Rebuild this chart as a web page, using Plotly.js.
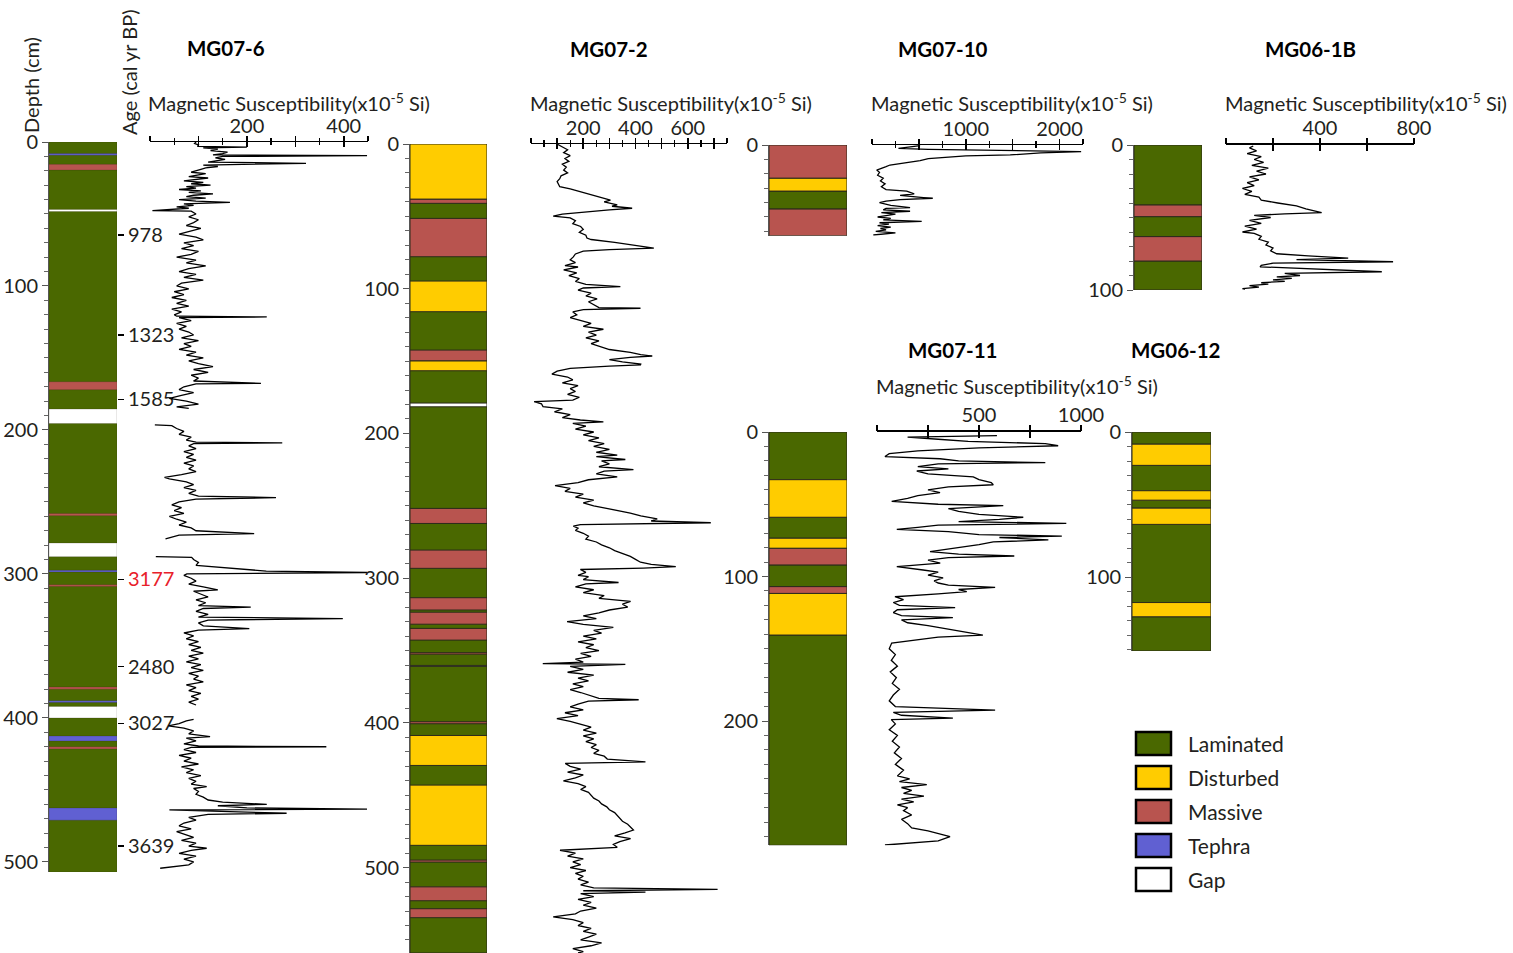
<!DOCTYPE html>
<html><head><meta charset="utf-8">
<script src="https://cdn.plot.ly/plotly-3.0.1.min.js"></script>
<style>html,body{margin:0;padding:0;background:#fff}#chart{width:1513px;height:953px}</style>
</head><body><div id="chart"></div>
<script>
// ---------- lithology legend ----------
const lithCodes  = ['L','D','M','T','G'];
const lithNames  = ['Laminated','Disturbed','Massive','Tephra','Gap'];
const lithColors = ['#4a6800','#ffcc00','#b8544f','#6060d2','#ffffff'];

// ---------- stratigraphic columns (depth cm) ----------
const mg076Top  = [0, 8, 15.5, 46.8, 166.5, 185.5, 258, 278.5, 297.5, 307.5, 378.5, 388, 392, 412.5, 420, 462.5];
const mg076Bot  = [507, 9.2, 19.5, 48.3, 172, 195.5, 259.5, 288, 298.7, 308.7, 380, 389.3, 400, 416, 421.5, 471];
const mg076Type = ['L','T','M','G','M','G','M','G','T','M','M','T','G','T','M','T'];

const mg072Top  = [0, 0, 38.2, 51.4, 94.7, 142.4, 149.8, 179, 251.8, 280.6, 313.5, 323.5, 334.7, 351.5, 360.3, 399.2, 408.7, 443, 494.8, 513.3, 528.4];
const mg072Bot  = [559, 38.2, 41, 77.9, 115.9, 149.8, 156.7, 181.6, 262.2, 293.2, 322, 331.8, 342.8, 352.5, 361, 400.6, 429.4, 484.6, 496.2, 522.9, 534.6];
const mg072Type = ['L','D','M','M','D','M','D','G','M','M','M','M','M','M','G','M','D','D','M','M','M'];

const mg0710Top  = [0, 23, 32, 44.5];
const mg0710Bot  = [23, 32, 44.5, 63];
const mg0710Type = ['M','D','L','M'];

const mg061bTop  = [0, 41.4, 49.4, 63.2, 80];
const mg061bBot  = [41.4, 49.4, 63.2, 80, 100];
const mg061bType = ['L','M','L','M','L'];

const mg0711Top  = [0, 33, 59, 73.5, 80.5, 92, 107, 111.7, 140.5];
const mg0711Bot  = [33, 59, 73.5, 80.5, 92, 107, 111.7, 140.5, 286];
const mg0711Type = ['L','D','L','D','M','L','M','D','L'];

const mg0612Top  = [0, 8.4, 23, 40.5, 47, 52.5, 63.7, 117.6, 127.4];
const mg0612Bot  = [8.4, 23, 40.5, 47, 52.5, 63.7, 117.6, 127.4, 151];
const mg0612Type = ['L','D','L','D','L','D','L','D','L'];

// ---------- age control points for MG07-6 ----------
const ageDepth = [64.6, 134, 178.7, 303.7, 364.4, 403.7, 489];
const ageLabel = ['978', '1323', '1585', '3177', '2480', '3027', '3639'];
const ageRed   = [false, false, false, true, false, false, false];

// ---------- magnetic susceptibility [depth, value] ----------
const mg076MS = [[0,95],[1,92],[2,100],[3,98],[3.5,200],[4,110],[5,140],[6,125],[7,160],[8,150],[9,130],[9.5,448],[10,150],[11,135],[12,155],[13,140],[14,120],[14.8,322],[15.5,130],[16,110],[17,140],[18,115],[19,105],[20,95],[21,85],[22,115],[23,95],[24,80],[25,120],[26,100],[27,70],[28,110],[29,85],[30,125],[31,75],[32,95],[33,60],[34,105],[35,80],[36,130],[37,90],[38,75],[39,115],[40,60],[41,95],[42,165],[43,70],[44,90],[45,55],[46,80],[47,40],[47.7,5],[48,85],[50,95],[52,80],[54,100],[56,90],[58,75],[60,105],[62,80],[64,60],[66,95],[68,110],[70,70],[72,90],[74,65],[76,100],[78,85],[80,55],[82,95],[84,75],[86,115],[88,80],[90,60],[92,95],[94,70],[96,110],[98,65],[100,55],[102,80],[104,50],[106,70],[108,45],[110,75],[112,55],[114,80],[116,45],[118,65],[120,50],[121,55],[121.5,241],[122,60],[124,85],[126,55],[128,75],[130,60],[132,80],[134,90],[136,65],[138,100],[140,70],[142,85],[144,60],[146,95],[148,75],[150,110],[152,80],[154,100],[156,130],[158,90],[160,120],[162,85],[164,100],[166,90],[167.6,229],[168,95],[170,70],[172,60],[174,90],[176,65],[178,40],[180,75],[182,100],[184,55],[185,80],[null,null],
[196.5,10],[197,45],[199,55],[201,70],[203,60],[205,85],[207,75],[208.5,95],[209,273],[209.5,90],[211,80],[213,95],[215,70],[217,90],[219,75],[221,95],[223,70],[225,90],[227,80],[229,95],[231,65],[233,30],[234,40],[236,75],[238,90],[240,70],[242,95],[244,80],[246,100],[247,260],[248,95],[250,60],[252,45],[254,65],[256,50],[258,70],[260,40],[262,55],[264,75],[266,60],[268,85],[270,95],[272,215],[273,60],[275.7,32],[null,null],
[288,12],[288.5,86],[290,90],[292,100],[294,95],[295,130],[296,172],[297,200],[298,240],[299,448],[300,76],[301,70],[303,85],[305,95],[307,80],[309,110],[311,140],[312,90],[314,105],[316,120],[318,95],[320,115],[322,100],[323,208],[324,110],[326,95],[328,120],[330,100],[331,398],[332,120],[334,100],[336,110],[338,205],[339,100],[341,70],[343,90],[345,75],[347,100],[349,80],[351,105],[353,85],[355,110],[357,80],[359,100],[361,75],[363,105],[365,85],[367,110],[369,80],[371,100],[373,90],[375,110],[377,75],[379,95],[381,80],[383,105],[385,85],[387,100],[389,80],[391,95],[null,null],
[401,90],[402,75],[404,60],[405.5,38],[407,70],[409,90],[411,80],[413,124],[414,75],[416,95],[418,70],[419.5,100],[420,364],[420.5,85],[422,70],[424,95],[426,60],[428,85],[430,70],[432,100],[434,65],[436,90],[438,75],[440,105],[442,80],[444,95],[446,85],[447.7,117],[449,90],[451,100],[453,95],[455,110],[457,120],[458.5,150],[460,241],[461,140],[462.5,200],[463.4,448],[463.9,40],[465,180],[466.2,282],[467,120],[469,80],[471,95],[473,70],[475,60],[477,85],[479,55],[481,75],[483,90],[485,65],[487,95],[489,80],[490.5,117],[492,85],[494,60],[496,95],[498,70],[500,90],[502,80],[504.4,21]];

const mg072MS = [[0,99],[2,120],[4,140],[6,125],[8,150],[10,130],[12,145],[14,120],[16,135],[18,125],[20,140],[22,115],[24,110],[26,100],[28,105],[29.5,110],[31,150],[33,190],[35,230],[37,270],[38.7,304],[40,280],[42,330],[43,310],[44.4,387],[45.5,300],[47,200],[48.5,120],[49.8,85],[51,150],[53,170],[55,160],[57,190],[59,200],[61,185],[63,210],[65,214],[66,230],[68,320],[70,400],[71,431],[72,470],[73,300],[74,200],[76,170],[78,162],[80,150],[82,170],[84,130],[85,180],[87,125],[89,175],[91,145],[93,185],[95,170],[97,210],[98.6,342],[99.5,200],[101,180],[103,230],[105,210],[107,253],[109,220],[111,240],[113,260],[113.5,419],[114.5,200],[116,160],[118,175],[120,150],[122,190],[124,230],[126,200],[128,277],[130,220],[132,250],[134,210],[136,260],[138,230],[140,270],[142,300],[144,380],[145.5,420],[146.5,464],[147.5,380],[149,300],[150.5,350],[152,420],[152.7,419],[153.5,300],[155,150],[157,100],[159,80],[161,140],[163,160],[165,120],[167,180],[169,150],[171,170],[173,140],[175,185],[177,160],[178,12],[179.5,40],[181.5,46],[183,120],[185,90],[187,150],[189,120],[190.7,189],[192,277],[193,160],[195,210],[197,170],[199,240],[201,200],[203,260],[205,220],[207,280],[209,240],[211,300],[213,250],[215,330],[216,250],[218,361],[219,270],[221,300],[223,260],[225,392],[226,280],[228,250],[230,330],[232,220],[234,180],[236,92],[238,150],[240,130],[242,200],[244,170],[246,240],[248,200],[250,240],[251,270],[253,330],[255,380],[257,420],[259,483],[260.5,460],[261.7,688],[263,189],[264,162],[265.5,180],[267,170],[269,200],[271,220],[273,210],[275,250],[277,270],[279,300],[281,320],[283,350],[285,380],[287,400],[289,419],[290.5,460],[292,554],[293,430],[294,189],[296,210],[298,180],[299,220],[301,200],[303,335],[304,210],[306,170],[308,240],[310,200],[312,280],[314,260],[316,381],[318,350],[320,370],[322,300],[324,260],[326,200],[328,250],[330,138],[332,200],[334,315],[336,240],[338,270],[340,200],[342,250],[344,180],[346,240],[348,210],[350,260],[352,190],[354,230],[356,170],[358,200],[359,45],[359.5,361],[361,150],[363,200],[365,140],[367,240],[369,180],[371,220],[373,160],[375,200],[377,150],[379,190],[381,230],[383,260],[384,412],[385,220],[387,180],[389,150],[391,200],[393,130],[395,180],[397,99],[399,150],[401,190],[403,230],[405,200],[407,250],[409,200],[411,240],[413,210],[415,250],[417,230],[419,260],[421,240],[423,280],[425,292],[427,438],[428,131],[430,150],[432,190],[434,140],[436,200],[438,170],[440,124],[442,180],[444,210],[446,190],[448,220],[450,230],[452,240],[454,260],[456,270],[458,290],[460,300],[462,320],[464,330],[466,340],[468,350],[470,370],[472,380],[474,392],[476,360],[478,320],[480,381],[482,340],[484,315],[486,330],[488,111],[490,170],[492,140],[494,200],[496,160],[498,190],[500,150],[502,210],[504,170],[506,200],[508,180],[510,220],[512,190],[514,240],[515,714],[516,200],[517,438],[518,190],[520,240],[522,180],[524,230],[526,200],[528,250],[530,190],[532,170],[534,85],[536,160],[538,200],[540,180],[542,230],[544,200],[546,250],[548,220],[550,190],[552,270],[554,230],[556,160],[558,200],[559,180]];

const mg0710MS = [[0.5,513],[2.3,282],[3,600],[3.5,1200],[4.6,2230],[5.5,1800],[6.9,1474],[7.5,1000],[8.6,762],[9.5,600],[10.9,513],[12,400],[13.9,192],[15,150],[17.4,50],[19,80],[21,60],[23,120],[25,90],[27,140],[29,100],[31,150],[32,370],[34,450],[35,300],[36.5,550],[37,648],[38,300],[39,150],[40,80],[42,200],[43.5,406],[44,150],[45,120],[46,406],[47,100],[48,250],[49,150],[50,60],[51,200],[52,120],[53,530],[54,80],[55,180],[56,60],[57,200],[58,90],[59,150],[60,40],[61,250],[62,100],[62.5,14]];

const mg061bMS = [[0.7,116],[2,100],[4,130],[6,90],[8,150],[10,120],[12,160],[14,110],[16,180],[18,130],[20,170],[22,100],[24,140],[26,90],[28,120],[30,70],[32,110],[34,80],[36,140],[38,150],[40,220],[42,300],[44,340],[45.5,380],[46.7,407],[47.5,250],[48.5,120],[50,190],[52,100],[54,150],[56,80],[58,130],[60,70],[61,120],[63,150],[65,140],[67,180],[69,170],[71,200],[73,190],[75,216],[76.5,350],[77.5,500],[78,520],[79,300],[80.5,711],[81.5,200],[83,150],[84,145],[85,300],[86,450],[87.4,663],[88.5,250],[90,315],[91,216],[92,280],[93,200],[94,250],[95,150],[96,180],[97,100],[98,140],[99,70],[99.5,81]];

const mg0711MS = [[2.5,588],[3.5,150],[5,300],[6.5,447],[8,825],[9.5,888],[11,500],[13,200],[15,60],[17,39],[18.5,309],[20,400],[21.2,825],[22,300],[24,200],[25.5,350],[27,195],[29,250],[31,472],[33,500],[35,560],[36.5,570],[38,350],[40,250],[42,309],[44,200],[46,150],[48,72],[50,300],[51,619],[53,350],[55,400],[57,500],[59,717],[60.5,600],[62,400],[63.2,928],[64.5,300],[66,200],[67.4,97],[69,350],[71,500],[72,906],[73,600],[74.7,840],[76,570],[78,500],[80,400],[82.8,260],[84.5,400],[85.8,673],[87,350],[88.6,250],[90.7,310],[93.2,97],[95.5,226],[97,300],[99,250],[101,324],[103,280],[104.5,300],[106,350],[107.5,579],[109,400],[110.5,440],[112,300],[114,88],[116,130],[118,80],[120,110],[121.5,383],[123,100],[125,80],[127,120],[128.5,372],[130,120],[132,150],[134,250],[136,330],[138,400],[140.5,519],[142,300],[145,113],[146,72],[150,60],[154,90],[158,70],[162,100],[166,65],[170,95],[174,75],[178,110],[182,80],[186,60],[190,90],[192.4,579],[194,80],[196,120],[198,372],[199,70],[202,90],[206,60],[210,100],[214,75],[218,110],[222,85],[226,120],[230,90],[234,130],[238,100],[240,160],[242,110],[244,244],[246,120],[248,170],[250,130],[252,230],[254,120],[256,180],[258,100],[260,150],[262,130],[265,170],[268,120],[271,150],[274,170],[276,250],[278,300],[280,358],[283,300],[285.8,39]];

// ---------- helpers ----------
const W = 1513, H = 953;
const X = p => p / W, Y = p => 1 - p / H;
const FONT = 'Lato, "Open Sans", sans-serif';
const TXT = '#231f20';

function colTraces(tops, bots, types, xa, ya, lc, lw) {
  const out = [];
  lithCodes.forEach((code, k) => {
    const idx = types.map((t, i) => t === code ? i : -1).filter(i => i >= 0);
    if (!idx.length) return;
    out.push({
      type: 'bar', x: idx.map(() => 0), base: idx.map(i => tops[i]),
      y: idx.map(i => bots[i] - tops[i]), width: idx.map(() => 1),
      xaxis: xa, yaxis: ya, name: lithNames[k],
      marker: {color: lithColors[k], line: {color: lc, width: lw}},
      hoverinfo: 'skip', showlegend: false
    });
  });
  return out;
}
function msTrace(pairs, xa, ya, op) {
  return {type: 'scatter', mode: 'lines', x: pairs.map(p => p[1]), y: pairs.map(p => p[0]),
    xaxis: xa, yaxis: ya, connectgaps: false, line: {color: '#000', width: 1.3},
    opacity: op === undefined ? 1 : op, hoverinfo: 'skip', showlegend: false};
}
function colX(x0, x1, ya) {
  return {domain: [X(x0), X(x1)], range: [-0.5, 0.5], anchor: ya, visible: false, fixedrange: true};
}
function depthY(yTop, yBot, maxD, xa) {
  return {domain: [Y(yBot), Y(yTop)], range: [maxD, 0], anchor: xa, side: 'left',
    showgrid: false, zeroline: false, showline: true, linecolor: '#555', linewidth: 1,
    ticks: 'outside', ticklen: 6, tickcolor: '#555', tickwidth: 1, tick0: 0, dtick: 100,
    minor: {dtick: 10, tick0: 0, ticks: 'outside', ticklen: 4, tickcolor: '#666', tickwidth: 1},
    tickfont: {family: FONT, size: 20, color: TXT}};
}
function msX(x0, x1, max, ya, majors, labels, minors, over, lw, tl) {
  const base = {range: [0, max], anchor: ya, side: 'top', showgrid: false, zeroline: false,
    tickmode: 'array', tickvals: majors, tickwidth: lw + 0.2, tickcolor: '#000', ticklen: tl,
    minor: {tickmode: 'array', tickvals: minors, ticklen: 3, tickwidth: 1.3, tickcolor: '#000'}};
  const main = Object.assign({}, base, {domain: [X(x0), X(x1)], ticks: 'inside', showline: true,
    linecolor: '#000', linewidth: lw, ticktext: labels,
    minor: Object.assign({}, base.minor, {ticks: 'inside'}),
    tickfont: {family: FONT, size: 20, color: TXT}});
  const ov = Object.assign({}, base, {overlaying: over, ticks: 'outside', showline: false, showticklabels: false,
    minor: Object.assign({}, base.minor, {ticks: 'outside'})});
  return [main, ov];
}

// ---------- traces ----------
const data = [].concat(
  colTraces(mg076Top, mg076Bot, mg076Type, 'x', 'y', 'rgba(40,30,20,0.35)', 0.6),
  [msTrace(mg076MS, 'x2', 'y'), msTrace(mg076MS, 'x3', 'y', 0), msTrace(mg076MS, 'x', 'y2', 0)],
  colTraces(mg072Top, mg072Bot, mg072Type, 'x4', 'y3', '#2a2a1a', 1),
  [msTrace(mg072MS, 'x5', 'y3'), msTrace(mg072MS, 'x6', 'y3', 0)],
  colTraces(mg0710Top, mg0710Bot, mg0710Type, 'x7', 'y4', '#2a2a1a', 1),
  [msTrace(mg0710MS, 'x8', 'y4'), msTrace(mg0710MS, 'x9', 'y4', 0)],
  colTraces(mg061bTop, mg061bBot, mg061bType, 'x10', 'y5', '#2a2a1a', 1),
  [msTrace(mg061bMS, 'x11', 'y5'), msTrace(mg061bMS, 'x12', 'y5', 0)],
  colTraces(mg0711Top, mg0711Bot, mg0711Type, 'x13', 'y6', '#2a2a1a', 1),
  [msTrace(mg0711MS, 'x14', 'y6'), msTrace(mg0711MS, 'x15', 'y6', 0)],
  colTraces(mg0612Top, mg0612Bot, mg0612Type, 'x16', 'y7', '#2a2a1a', 1)
);

// ---------- layout ----------
const [x2, x3]   = msX(150, 368, 450, 'y',  [0,100,200,300,400,450], ['','','200','','400',''], [50,150,250,350], 'x2', 1.4, 5);
const [x5, x6]   = msX(531, 727, 750, 'y3', [0,100,200,300,400,500,600,700,750], ['','','200','','400','','600','',''], [50,150,250,350,450,550,650], 'x5', 1.4, 5);
const [x8, x9]   = msX(872, 1083, 2250, 'y4', [0,500,1000,1500,2000,2250], ['','','1000','','2000',''], [250,750,1250,1750], 'x8', 1.4, 5);
const [x11, x12] = msX(1226, 1414, 800, 'y5', [0,200,400,600,800], ['','','400','','800'], [], 'x11', 2, 6);
const [x14, x15] = msX(877, 1081, 1000, 'y6', [0,250,500,750,1000], ['','','500','','1000'], [], 'x14', 2, 6);

const layout = {
  width: W, height: H, margin: {l: 0, r: 0, t: 0, b: 0},
  paper_bgcolor: '#fff', plot_bgcolor: 'rgba(0,0,0,0)',
  barmode: 'overlay', showlegend: false,
  font: {family: FONT, size: 20, color: TXT},
  xaxis: colX(49, 117, 'y'),
  yaxis: depthY(142, 872, 507, 'x'),
  yaxis2: {overlaying: 'y', anchor: 'x', side: 'right', range: [507, 0], showgrid: false, zeroline: false,
    showline: false, tickmode: 'array', tickvals: ageDepth,
    ticktext: ageLabel.map((t, i) => ageRed[i] ? '<span style="color:#e8202a">' + t + '</span>' : t),
    ticks: 'outside', ticklen: 6, tickcolor: '#000', tickwidth: 1.2,
    tickfont: {family: FONT, size: 20, color: TXT}},
  xaxis2: x2, xaxis3: x3,
  xaxis4: colX(410, 487, 'y3'),
  yaxis3: depthY(144, 953, 559, 'x4'),
  xaxis5: x5, xaxis6: x6,
  xaxis7: colX(769, 847, 'y4'),
  yaxis4: depthY(145, 235.7, 63, 'x7'),
  xaxis8: x8, xaxis9: x9,
  xaxis10: colX(1134, 1202, 'y5'),
  yaxis5: depthY(145, 290, 100, 'x10'),
  xaxis11: x11, xaxis12: x12,
  xaxis13: colX(769, 847, 'y6'),
  yaxis6: depthY(432, 845.3, 286, 'x13'),
  xaxis14: x14, xaxis15: x15,
  xaxis16: colX(1132, 1211, 'y7'),
  yaxis7: depthY(432, 651, 151, 'x16'),
  annotations: [], shapes: []
};

// titles
const coreNames = ['MG07-6', 'MG07-2', 'MG07-10', 'MG06-1B', 'MG07-11', 'MG06-12'];
const titlePos = [[226, 48], [609, 49], [943, 49], [1310, 49], [952, 350], [1175, 350]];
coreNames.forEach((n, i) => layout.annotations.push({text: '<b>' + n + '</b>', xref: 'paper', yref: 'paper',
  x: X(titlePos[i][0]), y: Y(titlePos[i][1]), xanchor: 'center', yanchor: 'middle', showarrow: false,
  font: {family: FONT, size: 20.5, color: '#000'}}));
const msLabelPos = [[289, 102], [671, 102], [1012, 102], [1366, 102], [1017, 385]];
msLabelPos.forEach(p => layout.annotations.push({text: 'Magnetic Susceptibility(x10<sup>-5</sup> Si)',
  xref: 'paper', yref: 'paper', x: X(p[0]), y: Y(p[1]), xanchor: 'center', yanchor: 'middle', showarrow: false,
  font: {family: FONT, size: 20, color: TXT}}));
layout.annotations.push({text: 'Depth (cm)', xref: 'paper', yref: 'paper', x: X(31), y: Y(85), textangle: -90,
  xanchor: 'center', yanchor: 'middle', showarrow: false, font: {family: FONT, size: 20, color: TXT}});
layout.annotations.push({text: 'Age (cal yr BP)', xref: 'paper', yref: 'paper', x: X(129), y: Y(72), textangle: -90,
  xanchor: 'center', yanchor: 'middle', showarrow: false, font: {family: FONT, size: 20, color: TXT}});

// legend
lithNames.forEach((n, i) => {
  const top = 732 + i * 34;
  layout.shapes.push({type: 'rect', xref: 'paper', yref: 'paper', x0: X(1136), x1: X(1171), y0: Y(top + 23), y1: Y(top),
    fillcolor: lithColors[i], line: {color: '#000', width: 2.5}});
  layout.annotations.push({text: n, xref: 'paper', yref: 'paper', x: X(1186), y: Y(top + 11.5), xanchor: 'left',
    yanchor: 'middle', showarrow: false, font: {family: FONT, size: 21, color: TXT}});
});

Plotly.newPlot('chart', data, layout, {staticPlot: true, displayModeBar: false});
</script>
</body></html>
